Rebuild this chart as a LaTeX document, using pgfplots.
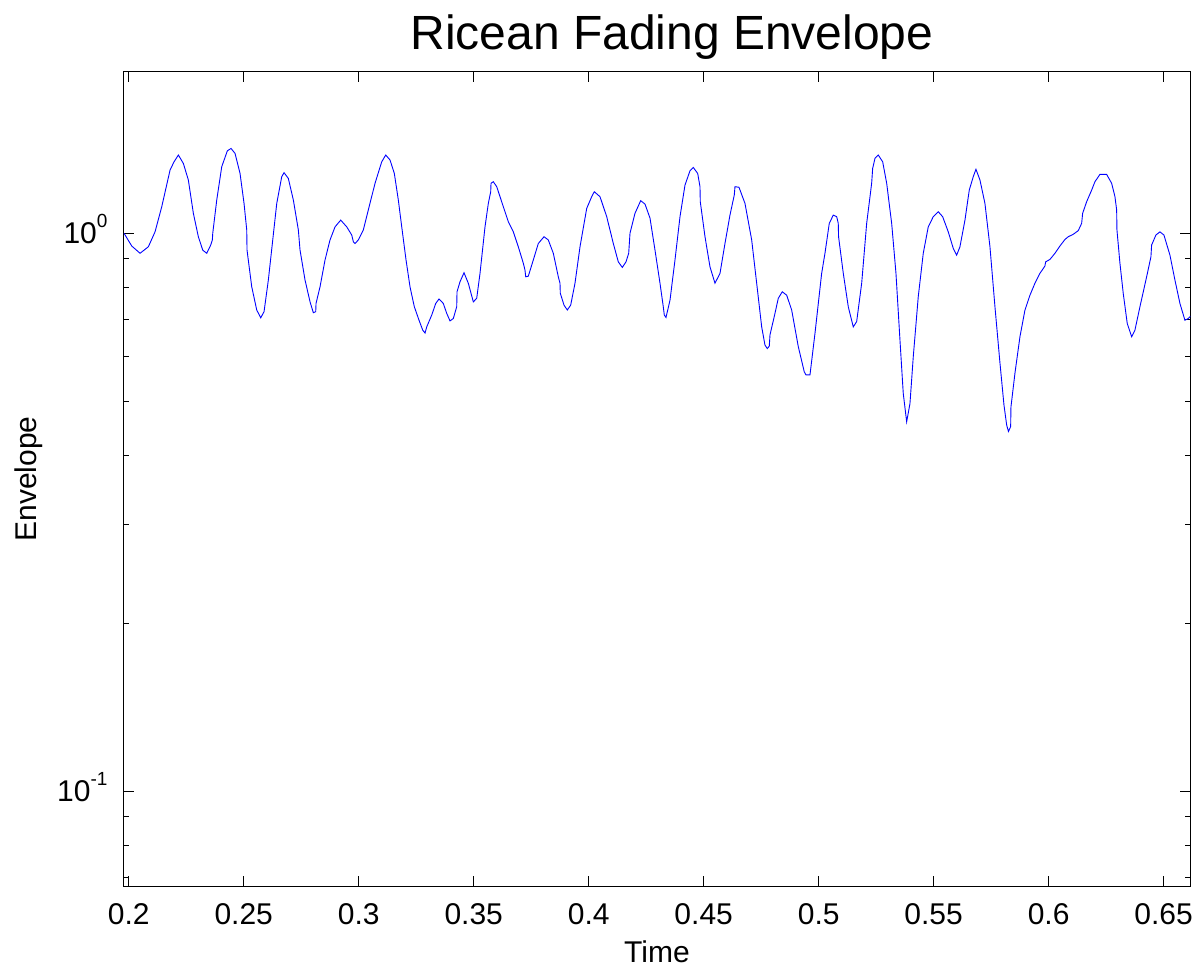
\documentclass[border=0pt]{standalone}
\usepackage{fontspec}
\setmainfont{Liberation Sans}
\usepackage{pgfplots}
\pgfplotsset{compat=1.18}
\newcommand{\tpow}[1]{10\raisebox{0.55em}{\fontsize{19bp}{19bp}\selectfont #1}}
\begin{document}
\begin{tikzpicture}
\begin{axis}[
  scale only axis, width=1066.6bp, height=814bp,
  ymode=log,
  xmin=0.1978, xmax=0.6616, ymin=0.0676, ymax=1.944,
  xtick={0.2,0.25,0.3,0.35,0.4,0.45,0.5,0.55,0.6,0.65},
  xticklabels={0.2,0.25,0.3,0.35,0.4,0.45,0.5,0.55,0.6,0.65},
  ytick={0.1,1},
  yticklabels={\tpow{-1},\tpow{0}},
  minor ytick={0.07,0.08,0.09,0.2,0.3,0.4,0.5,0.6,0.7,0.8,0.9},
  xtick pos=both, ytick pos=both,
  tick align=inside,
  major tick length=10.5bp, minor tick length=5bp,
  every tick/.style={black, line width=0.8bp},
  axis line style={line width=1bp},
  tick label style={font=\fontsize{30bp}{36bp}\selectfont},
  xticklabel style={anchor=base, inner sep=0pt, yshift=-38bp},
  yticklabel style={anchor=base east, inner sep=0pt, xshift=-16bp, yshift=-10.7bp},
]
\addplot[color=blue, line width=0.9bp, mark=none] coordinates {
(0.19796,0.999) (0.20130,0.948) (0.20491,0.920) (0.20852,0.945) (0.21143,1.005)
(0.21435,1.115) (0.21796,1.297) (0.21970,1.342) (0.22157,1.380) (0.22374,1.333)
(0.22591,1.245) (0.22809,1.085) (0.23026,0.985) (0.23217,0.932) (0.23391,0.920)
(0.23565,0.952) (0.23635,0.972) (0.23652,0.999) (0.23826,1.146) (0.24043,1.315)
(0.24287,1.404) (0.24448,1.418) (0.24622,1.389) (0.24839,1.279) (0.25013,1.130)
(0.25130,1.013) (0.25143,0.932) (0.25348,0.801) (0.25565,0.728) (0.25739,0.705)
(0.25883,0.723) (0.26070,0.824) (0.26261,0.972) (0.26435,1.130) (0.26652,1.262)
(0.26752,1.283) (0.26939,1.253) (0.27157,1.146) (0.27374,1.013) (0.27448,0.932)
(0.27665,0.824) (0.27883,0.753) (0.28026,0.720) (0.28130,0.723) (0.28143,0.748)
(0.28317,0.801) (0.28535,0.895) (0.28752,0.972) (0.28970,1.026) (0.29217,1.055)
(0.29478,1.026) (0.29696,0.992) (0.29765,0.965) (0.29839,0.958) (0.29983,0.972)
(0.30200,1.013) (0.30417,1.100) (0.30709,1.228) (0.31000,1.342) (0.31174,1.380)
(0.31361,1.352) (0.31548,1.279) (0.31722,1.146) (0.31870,1.026) (0.32057,0.895)
(0.32230,0.801) (0.32417,0.738) (0.32622,0.698) (0.32783,0.670) (0.32883,0.662)
(0.32957,0.679) (0.33174,0.713) (0.33348,0.748) (0.33491,0.762) (0.33678,0.748)
(0.33826,0.718) (0.33970,0.696) (0.34113,0.703) (0.34261,0.738) (0.34274,0.785)
(0.34404,0.818) (0.34578,0.849) (0.34765,0.813) (0.34983,0.753) (0.35130,0.764)
(0.35274,0.847) (0.35491,1.026) (0.35635,1.130) (0.35739,1.186) (0.35752,1.228)
(0.35852,1.236) (0.36000,1.211) (0.36287,1.115) (0.36504,1.048) (0.36722,1.005)
(0.36939,0.945) (0.37157,0.883) (0.37230,0.858) (0.37261,0.835) (0.37374,0.837)
(0.37591,0.895) (0.37809,0.958) (0.38057,0.985) (0.38243,0.972) (0.38461,0.920)
(0.38678,0.835) (0.38752,0.813) (0.38765,0.780) (0.38926,0.743) (0.39070,0.728)
(0.39217,0.743) (0.39404,0.813) (0.39622,0.945) (0.39913,1.107) (0.40130,1.162)
(0.40243,1.186) (0.40491,1.162) (0.40783,1.070) (0.41070,0.958) (0.41287,0.888)
(0.41461,0.868) (0.41622,0.888) (0.41739,0.920) (0.41796,0.999) (0.42013,1.085)
(0.42261,1.143) (0.42448,1.127) (0.42665,1.064) (0.42883,0.932) (0.43100,0.813)
(0.43243,0.738) (0.43287,0.713) (0.43361,0.706) (0.43535,0.758) (0.43752,0.895)
(0.43970,1.070) (0.44187,1.219) (0.44404,1.293) (0.44548,1.311) (0.44739,1.279)
(0.44839,1.211) (0.44852,1.138) (0.45057,0.985) (0.45274,0.870) (0.45491,0.813)
(0.45709,0.847) (0.45926,0.958) (0.46143,1.077) (0.46330,1.170) (0.46361,1.211)
(0.46535,1.208) (0.46796,1.130) (0.47087,0.972) (0.47304,0.813) (0.47522,0.679)
(0.47665,0.630) (0.47765,0.621) (0.47852,0.627) (0.47883,0.657) (0.48100,0.718)
(0.48243,0.764) (0.48417,0.785) (0.48609,0.774) (0.48826,0.728) (0.49113,0.626)
(0.49374,0.564) (0.49448,0.557) (0.49622,0.557) (0.49839,0.661) (0.50130,0.847)
(0.50274,0.920) (0.50461,1.041) (0.50635,1.077) (0.50783,1.070) (0.50852,1.041)
(0.50865,0.985) (0.51070,0.847) (0.51287,0.738) (0.51504,0.679) (0.51652,0.694)
(0.51870,0.813) (0.52087,1.041) (0.52304,1.228) (0.52348,1.306) (0.52448,1.361)
(0.52591,1.380) (0.52783,1.342) (0.52957,1.228) (0.53174,1.041) (0.53361,0.847)
(0.53535,0.643) (0.53678,0.516) (0.53826,0.459) (0.53970,0.495) (0.54113,0.600)
(0.54330,0.769) (0.54548,0.920) (0.54765,1.026) (0.54983,1.070) (0.55200,1.092)
(0.55391,1.070) (0.55635,1.005) (0.55852,0.939) (0.56000,0.913) (0.56143,0.945)
(0.56361,1.055) (0.56548,1.194) (0.56722,1.262) (0.56839,1.301) (0.57013,1.245)
(0.57230,1.130) (0.57448,0.945) (0.57665,0.738) (0.57883,0.585) (0.58057,0.492)
(0.58174,0.453) (0.58252,0.441) (0.58348,0.450) (0.58361,0.488) (0.58535,0.561)
(0.58752,0.652) (0.58970,0.728) (0.59187,0.774) (0.59404,0.813) (0.59622,0.847)
(0.59839,0.873) (0.59870,0.888) (0.60057,0.897) (0.60274,0.920) (0.60491,0.948)
(0.60709,0.974) (0.60852,0.985) (0.61070,0.995) (0.61287,1.010) (0.61435,1.041)
(0.61478,1.085) (0.61652,1.138) (0.61870,1.194) (0.62013,1.236) (0.62230,1.274)
(0.62522,1.274) (0.62739,1.228) (0.62883,1.162) (0.62957,1.100) (0.62970,1.013)
(0.63100,0.883) (0.63243,0.780) (0.63417,0.689) (0.63609,0.652) (0.63752,0.670)
(0.63970,0.738) (0.64261,0.835) (0.64448,0.907) (0.64478,0.952) (0.64665,0.992)
(0.64839,1.005) (0.65013,0.992) (0.65274,0.913) (0.65491,0.824) (0.65709,0.748)
(0.65926,0.698) (0.66070,0.703) (0.66174,0.710)
};
\coordinate (bl) at (rel axis cs:0,0);
\coordinate (tr) at (rel axis cs:1,1);
\coordinate (bc) at (rel axis cs:0.5,0);
\coordinate (tc) at (rel axis cs:0.5,1);
\coordinate (lc) at (rel axis cs:0,0.5);
\end{axis}
\node[anchor=base, inner sep=0pt, font=\fontsize{48bp}{56bp}\selectfont] at ([xshift=15bp,yshift=22bp]tc) {Ricean Fading Envelope};
\node[anchor=base, inner sep=0pt, font=\fontsize{30bp}{36bp}\selectfont] at ([yshift=-77bp]bc) {Time};
\node[anchor=base, inner sep=0pt, rotate=90, font=\fontsize{30bp}{36bp}\selectfont] at ([xshift=-86.7bp]lc) {Envelope};
\pgfresetboundingbox
\path[use as bounding box] ([shift={(-123.7bp,-83bp)}]bl) rectangle ([shift={(8.7bp,72bp)}]tr);
\end{tikzpicture}
\end{document}
